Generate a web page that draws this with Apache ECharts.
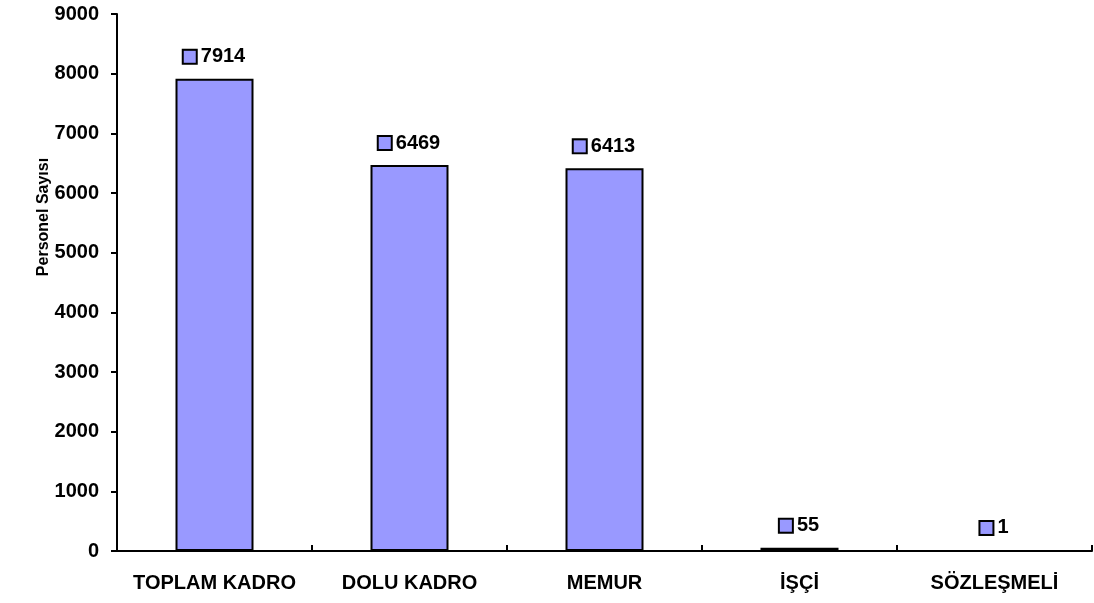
<!DOCTYPE html>
<html>
<head>
<meta charset="utf-8">
<script src="https://cdn.jsdelivr.net/npm/echarts@6/dist/echarts.min.js"></script>
<style>
html,body{margin:0;padding:0;background:#fff;}
#chart{width:1094px;height:603px;}
</style>
</head>
<body>
<div id="chart"></div>
<script>
const categories = ['TOPLAM KADRO', 'DOLU KADRO', 'MEMUR', 'İŞÇİ', 'SÖZLEŞMELİ'];
const values = [7914, 6469, 6413, 55, 1];
const yAxisTitle = 'Personel Sayısı';

const FONT = 'Arial, "Liberation Sans", sans-serif';
const chart = echarts.init(document.getElementById('chart'));
chart.setOption({
  animation: false,
  backgroundColor: '#ffffff',
  grid: { left: 117, right: 2, top: 14, bottom: 52, containLabel: false },
  xAxis: {
    type: 'category',
    data: categories,
    axisLine: { lineStyle: { color: '#000', width: 2 } },
    axisTick: { show: true, inside: true, length: 6, alignWithLabel: false, lineStyle: { color: '#000', width: 2 } },
    axisLabel: { color: '#000', fontFamily: FONT, fontWeight: 'bold', fontSize: 20, margin: 22, interval: 0 }
  },
  yAxis: {
    type: 'value',
    min: 0, max: 9000, interval: 1000,
    splitLine: { show: false },
    axisLine: { show: true, lineStyle: { color: '#000', width: 2 } },
    axisTick: { show: true, length: 6, lineStyle: { color: '#000', width: 2 } },
    axisLabel: { color: '#000', fontFamily: FONT, fontWeight: 'bold', fontSize: 20, margin: 18,
      formatter: function (v) { return String(v); } }
  },
  graphic: [{
    type: 'text',
    x: 44, y: 217,
    rotation: Math.PI / 2,
    style: {
      text: yAxisTitle,
      fill: '#000',
      font: 'bold 16px ' + FONT,
      textAlign: 'center',
      textVerticalAlign: 'middle'
    }
  }],
  series: [{
    type: 'bar',
    data: values,
    barWidth: '40%',
    itemStyle: { color: '#9999FF', borderColor: '#000', borderWidth: 2 },
    label: {
      show: true,
      position: 'top',
      distance: 12,
      formatter: function (p) { return '{sq|}{v|' + p.value + '}'; },
      rich: {
        sq: { width: 12, height: 12, backgroundColor: '#9999FF', borderColor: '#000', borderWidth: 2, padding: 0 },
        v: { color: '#000', fontFamily: FONT, fontWeight: 'bold', fontSize: 20, padding: [0, 0, 0, 5] }
      }
    }
  }]
});
</script>
</body>
</html>
